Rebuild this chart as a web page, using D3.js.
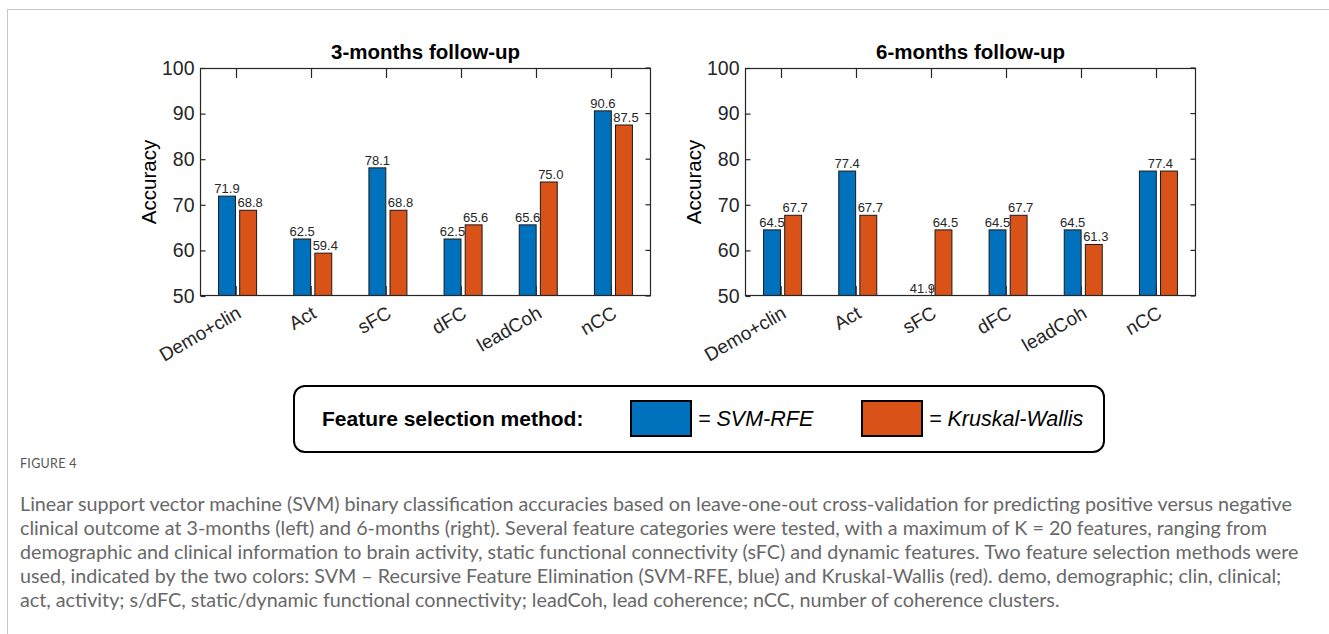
<!DOCTYPE html>
<html>
<head>
<meta charset="utf-8">
<script src="https://cdn.jsdelivr.net/npm/d3@7/dist/d3.min.js"></script>
<style>
  html, body { margin: 0; padding: 0; background: #fff; }
  svg { display: block; }
</style>
</head>
<body>
<svg id="fig" width="1329" height="634"></svg>
<script>
// Feature categories and classification accuracies (%) per follow-up
const categories = ["Demo+clin", "Act", "sFC", "dFC", "leadCoh", "nCC"];
const svmRfe3 = [71.9, 62.5, 78.1, 62.5, 65.6, 90.6];
const kruskal3 = [68.8, 59.4, 68.8, 65.6, 75.0, 87.5];
const svmRfe6 = [64.5, 77.4, 41.9, 64.5, 64.5, 77.4];
const kruskal6 = [67.7, 67.7, 64.5, 67.7, 61.3, 77.4];
const yTickValues = [50, 60, 70, 80, 90, 100];
const panelTitles = ["3-months follow-up", "6-months follow-up"];
const methodNames = ["SVM-RFE", "Kruskal-Wallis"];
const legendTitle = "Feature selection method:";
const captionHead = "FIGURE 4";
const captionLines = [
  "Linear support vector machine (SVM) binary classification accuracies based on leave-one-out cross-validation for predicting positive versus negative",
  "clinical outcome at 3-months (left) and 6-months (right). Several feature categories were tested, with a maximum of K = 20 features, ranging from",
  "demographic and clinical information to brain activity, static functional connectivity (sFC) and dynamic features. Two feature selection methods were",
  "used, indicated by the two colors: SVM \u2013 Recursive Feature Elimination (SVM-RFE, blue) and Kruskal-Wallis (red). demo, demographic; clin, clinical;",
  "act, activity; s/dFC, static/dynamic functional connectivity; leadCoh, lead coherence; nCC, number of coherence clusters."
];

const colors = ["#0072BD", "#D95319"];
const axisColor = "#262626";
const font = "'Liberation Sans', Arial, Helvetica, sans-serif";

const svg = d3.select("#fig");

// Page frame rules
svg.append("line").attr("x1", 7).attr("x2", 1329).attr("y1", 9.5).attr("y2", 9.5)
  .attr("stroke", "#c8c8c8").attr("stroke-width", 1);
svg.append("line").attr("x1", 7.5).attr("x2", 7.5).attr("y1", 9).attr("y2", 634)
  .attr("stroke", "#c8c8c8").attr("stroke-width", 1);

const plotTop = 68, plotBottom = 296;
const y = d3.scaleLinear().domain([50, 100]).range([plotBottom, plotTop]);

function drawPanel(left, right, title, series, clipId) {
  const g = svg.append("g");
  const x = d3.scaleLinear().domain([0.5, categories.length + 0.5]).range([left, right]);
  const inner = d3.scaleBand().domain([0, 1]).range([-19, 19]).paddingInner(0.2);

  g.append("defs").append("clipPath").attr("id", clipId)
    .append("rect").attr("x", left).attr("y", plotTop).attr("width", right - left).attr("height", plotBottom - plotTop);

  // inward bottom ticks sit behind the bars
  g.append("g").selectAll("line").data(categories).join("line")
    .attr("x1", (d, i) => Math.round(x(i + 1)) - 1.5).attr("x2", (d, i) => Math.round(x(i + 1)) - 1.5)
    .attr("y1", plotBottom).attr("y2", plotBottom - 10)
    .attr("stroke", "#555").attr("stroke-width", 1);

  // bars
  const bars = g.append("g").attr("clip-path", `url(#${clipId})`);
  series.forEach((vals, s) => {
    bars.selectAll(null).data(vals).join("rect")
      .attr("x", (d, i) => x(i + 1) + inner(s))
      .attr("width", inner.bandwidth())
      .attr("y", d => y(Math.max(d, 50)))
      .attr("height", d => plotBottom - y(Math.max(d, 50)))
      .attr("fill", colors[s])
      .attr("stroke", "#1a1a1a").attr("stroke-width", 1);
  });

  // value labels
  const labels = g.append("g").attr("font-family", font).attr("font-size", 13)
    .attr("fill", axisColor).attr("text-anchor", "middle");
  categories.forEach((c, i) => {
    const a = series[0][i], b = series[1][i];
    if (a === b) {
      labels.append("text").attr("x", x(i + 1) + 2).attr("y", y(Math.max(a, 50)) - 3).text(a.toFixed(1));
    } else {
      series.forEach((vals, s) => {
        labels.append("text")
          .attr("x", x(i + 1) + inner(s) + inner.bandwidth() / 2 + (s === 1 ? 2 : 0))
          .attr("y", y(Math.max(vals[i], 50)) - 3)
          .text(vals[i].toFixed(1));
      });
    }
  });

  // box
  g.append("rect").attr("x", left + 0.5).attr("y", plotTop + 0.5)
    .attr("width", right - left - 1).attr("height", plotBottom - plotTop - 1)
    .attr("fill", "none").attr("stroke", axisColor).attr("stroke-width", 1.2);

  // top ticks
  g.append("g").selectAll("line").data(categories).join("line")
    .attr("x1", (d, i) => Math.round(x(i + 1)) - 1.5).attr("x2", (d, i) => Math.round(x(i + 1)) - 1.5)
    .attr("y1", plotTop).attr("y2", plotTop + 10)
    .attr("stroke", axisColor).attr("stroke-width", 1.2);

  // left axis via d3 with inward ticks
  const yAxis = d3.axisLeft(y).tickValues(yTickValues).tickSizeInner(-5).tickSizeOuter(0).tickPadding(6)
    .tickFormat(d3.format("d"));
  const ya = g.append("g").attr("transform", `translate(${left + 0.5},0)`).call(yAxis);
  ya.select(".domain").remove();
  ya.selectAll(".tick line").attr("stroke", axisColor).attr("stroke-width", 1.2);
  ya.selectAll(".tick text").attr("font-family", font).attr("font-size", 19.5).attr("fill", axisColor);

  // right side ticks (box on)
  g.append("g").selectAll("line").data(yTickValues).join("line")
    .attr("x1", right - 0.5).attr("x2", right - 5.5)
    .attr("y1", d => y(d)).attr("y2", d => y(d))
    .attr("stroke", axisColor).attr("stroke-width", 1.2);

  // rotated category labels
  g.append("g").selectAll("text").data(categories).join("text")
    .attr("transform", (d, i) => `translate(${x(i + 1) - 2},${plotBottom + 9}) rotate(-30)`)
    .attr("text-anchor", "end").attr("dominant-baseline", "hanging")
    .attr("font-family", font).attr("font-size", 19).attr("fill", axisColor)
    .text(d => d);

  // y label
  g.append("text").attr("transform", `translate(${left - 44},${(plotTop + plotBottom) / 2}) rotate(-90)`)
    .attr("text-anchor", "middle").attr("font-family", font).attr("font-size", 20.5)
    .attr("fill", "#000").text("Accuracy");

  // title
  g.append("text").attr("x", (left + right) / 2).attr("y", 59)
    .attr("text-anchor", "middle").attr("font-family", font).attr("font-size", 20.5)
    .attr("font-weight", "bold").attr("fill", "#000").text(title);
}

drawPanel(200, 651, panelTitles[0], [svmRfe3, kruskal3], "clip3");
drawPanel(745, 1196, panelTitles[1], [svmRfe6, kruskal6], "clip6");

// legend box
const lg = svg.append("g");
lg.append("rect").attr("x", 294).attr("y", 386).attr("width", 810).attr("height", 66)
  .attr("rx", 11).attr("ry", 11).attr("fill", "#fff").attr("stroke", "#000").attr("stroke-width", 2);
lg.append("text").attr("x", 322).attr("y", 426).attr("font-family", font).attr("font-size", 21)
  .attr("font-weight", "bold").attr("fill", "#000").text(legendTitle);
const swatchX = [631, 862];
methodNames.forEach((m, i) => {
  lg.append("rect").attr("x", swatchX[i]).attr("y", 401).attr("width", 60).attr("height", 35)
    .attr("fill", colors[i]).attr("stroke", "#000").attr("stroke-width", 2);
  lg.append("text").attr("x", swatchX[i] + 67).attr("y", 426).attr("font-family", font)
    .attr("font-size", 21.5).attr("font-style", "italic").attr("fill", "#000").text("= " + m);
});

// caption
const capFont = "Lato, 'Open Sans', sans-serif";
svg.append("text").attr("x", 20).attr("y", 468).attr("font-family", capFont)
  .attr("font-size", 12.5).attr("fill", "#555").attr("letter-spacing", 0.3).text(captionHead);
const cap = svg.append("g").attr("font-family", capFont).attr("fill", "#686868");
const probe = cap.append("text").attr("font-size", 16).text(captionLines[0]);
const w = probe.node().getComputedTextLength();
probe.remove();
const capSize = 16 * 1273 / w;
cap.selectAll("text").data(captionLines).join("text")
  .attr("x", 20).attr("y", (d, i) => 511 + i * 24)
  .attr("font-size", capSize).text(d => d);
</script>
</body>
</html>
